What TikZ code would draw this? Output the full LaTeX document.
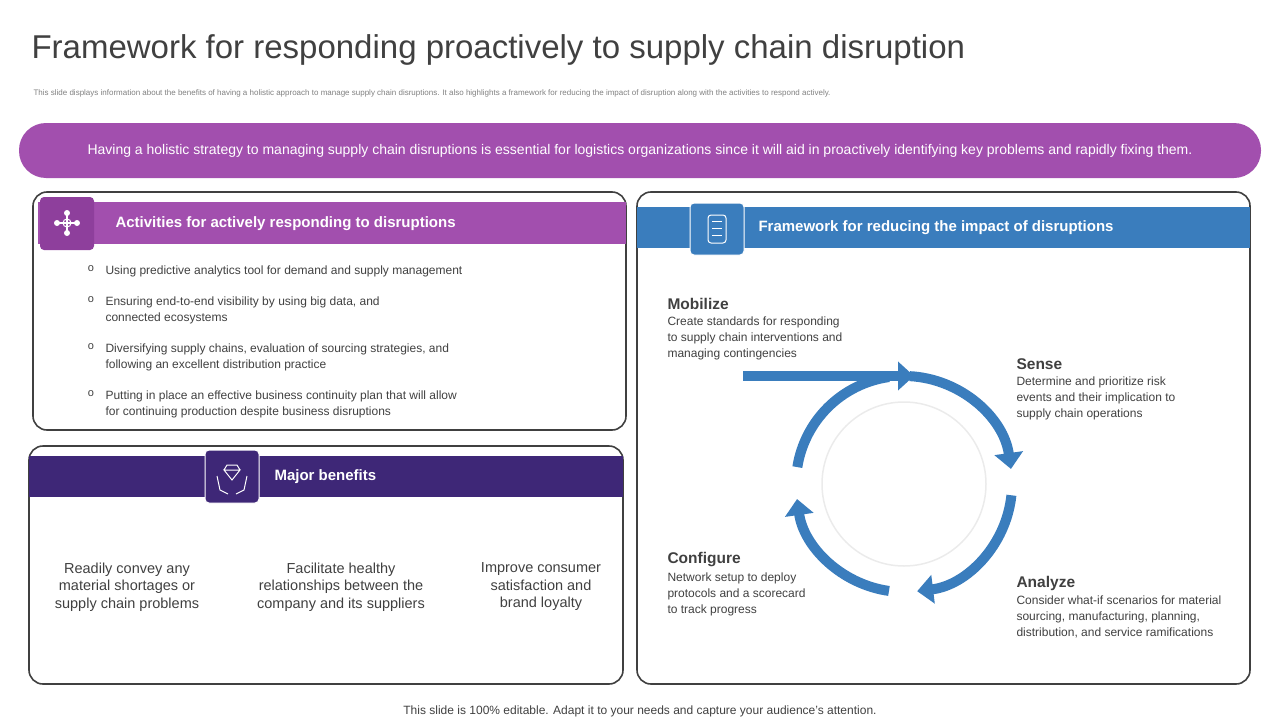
\documentclass[tikz,border=0pt]{standalone}
\usepackage{fontspec}
\setmainfont{Liberation Sans}
\usetikzlibrary{arrows.meta}
\definecolor{lila}{HTML}{A24FAE}
\definecolor{lilaDark}{HTML}{8E3F9C}
\definecolor{indigo}{HTML}{3E2777}
\definecolor{blau}{HTML}{3A7DBD}
\definecolor{textgrau}{HTML}{404040}
\tikzset{
    rahmen/.style={draw=textgrau,line width=1.6pt,rounded corners=14pt},
    symbol/.style={draw=white,line width=1pt,rounded corners=3pt},
    kopf/.style={anchor=west,text=white,font=\bfseries\fontsize{15}{18}\selectfont},
    punkt/.style={anchor=north west,text=textgrau,font=\fontsize{12}{16}\selectfont,align=left},
    nutzen/.style={text=textgrau,font=\fontsize{14.5}{17.5}\selectfont,align=center},
    titel/.style={anchor=west,text=textgrau,font=\bfseries\fontsize{15.5}{18}\selectfont},
    info/.style={anchor=north west,text=textgrau,font=\fontsize{12}{16}\selectfont,align=left},
    ring/.style={blau,line width=10pt,-{Triangle[length=16pt,width=28pt]}}
}
\begin{document}
\begin{tikzpicture}[x=1pt,y=-1pt]
    \useasboundingbox (0,0) rectangle (1280,720);

    % Titel und Untertitel
    \node[anchor=west,text=textgrau,font=\fontsize{33}{38}\selectfont] (titelzeile) at (28,50) {Framework for responding proactively to supply chain disruption};
    \node[anchor=west,text=gray,font=\fontsize{8}{10}\selectfont] (untertitel) at (30,93) {This slide displays information about the benefits of having a holistic approach to manage supply chain disruptions. It also highlights a framework for reducing the impact of disruption along with the activities to respond actively.};

    % Band oben
    \fill[lila,rounded corners=27pt] (19,123) rectangle (1261,178);
    \node[text=white,font=\fontsize{14}{17}\selectfont] (band) at (640,151) {Having a holistic strategy to managing supply chain disruptions is essential for logistics organizations since it will aid in proactively identifying key problems and rapidly fixing them.};

    % Aktivitaeten (links oben)
    \draw[rahmen] (33,192) rectangle (626,430);
    \fill[lila] (38,202) rectangle (626,244);
    \fill[lilaDark,rounded corners=4pt] (40,197) rectangle (94,250);
    \foreach \a in {0,90,180,270} {
        \draw[white,line width=1.2pt] (67,223) -- ++(\a:8);
        \fill[white] (67,223) ++(\a:10) circle (3);
    }
    \draw[white,line width=1pt] (67,223) circle (4);
    \node[kopf] (aktivkopf) at (112,224) {Activities for actively responding to disruptions};
    \foreach \y/\txt in {262/{Using predictive analytics tool for demand and supply management},
                         293/{Ensuring end-to-end visibility by using big data, and\\connected ecosystems},
                         340/{Diversifying supply chains, evaluation of sourcing strategies, and\\following an excellent distribution practice},
                         387/{Putting in place an effective business continuity plan that will allow\\for continuing production despite business disruptions}} {
        \node[anchor=north,text=textgrau,font=\fontsize{11}{16}\selectfont] at (91,\y) {o};
        \node[punkt] at (102,\y) {\txt};
    }

    % Nutzen (links unten)
    \draw[rahmen] (29,446) rectangle (623,684);
    \fill[indigo] (29,456) rectangle (623,497);
    \fill[indigo,rounded corners=4pt,draw=white,line width=1pt] (205,450) rectangle (259,503);
    \draw[white,line width=1pt] (224,470) -- (240,470) -- (232,480) -- cycle (224,470) -- (227,465) -- (237,465) -- (240,470);
    \draw[white,line width=1pt] (217,476) -- (220,490) -- (228,494) (247,476) -- (244,490) -- (236,494);
    \node[kopf] (nutzenkopf) at (271,477) {Major benefits};
    \node[nutzen] (nutzen1) at (127,587) {Readily convey any\\material shortages or\\supply chain problems};
    \node[nutzen] (nutzen2) at (341,587) {Facilitate healthy\\relationships between the\\company and its suppliers};
    \node[nutzen] (nutzen3) at (541,587) {Improve consumer\\satisfaction and\\brand loyalty};

    % Rahmenwerk (rechts)
    \draw[rahmen] (637,192) rectangle (1250,684);
    \fill[blau] (637,207) rectangle (1250,248);
    \fill[blau,rounded corners=4pt,draw=white,line width=1pt] (690,203) rectangle (744,255);
    \draw[symbol] (708,215) rectangle (726,243);
    \foreach \y in {221,228,235} \draw[white,line width=1pt] (712,\y) -- (722,\y);
    \node[kopf] (rahmenkopf) at (755,228) {Framework for reducing the impact of disruptions};

    \node[titel] (mobilize) at (664,304) {Mobilize};
    \node[info] (mobtext) at (664,313) {Create standards for responding\\to supply chain interventions and\\managing contingencies};
    \node[titel] (sense) at (1013,364) {Sense};
    \node[info] (sensetext) at (1013,373) {Determine and prioritize risk\\events and their implication to\\supply chain operations};
    \node[titel] (configure) at (664,560) {Configure};
    \node[info] (conftext) at (664,569) {Network setup to deploy\\protocols and a scorecard\\to track progress};
    \node[titel] (analyze) at (1013,583) {Analyze};
    \node[info] (anatext) at (1013,592) {Consider what-if scenarios for material\\sourcing, manufacturing, planning,\\distribution, and service ramifications};

    % Kreislauf
    \coordinate (mitte) at (904,484);
    \draw[black!8,line width=1.5pt] (mitte) circle (82);
    \coordinate (start) at (743,376);
    \coordinate (ziel) at (914,376);
    \draw[ring] (start) -- (ziel);
    \draw[ring] (mitte) ++(273:108) arc (273:352:108);
    \draw[ring] (mitte) ++(6:108) arc (6:83:108);
    \draw[ring] (mitte) ++(98:108) arc (98:172:108);
    \draw[blau,line width=10pt] (mitte) ++(189:108) arc (189:262:108);

    % Fusszeile
    \node[text=textgrau,font=\fontsize{12}{14}\selectfont] (fuss) at (640,711) {This slide is 100\% editable. Adapt it to your needs and capture your audience's attention.};
\end{tikzpicture}
\end{document}
